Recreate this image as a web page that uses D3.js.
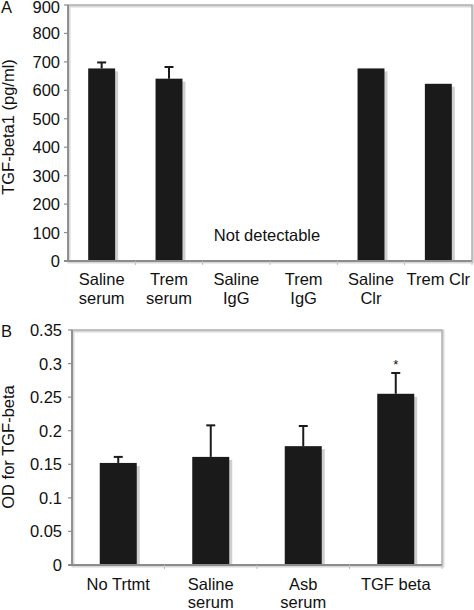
<!DOCTYPE html>
<html><head><meta charset="utf-8">
<script src="https://cdn.jsdelivr.net/npm/d3@7"></script>
<style>
body{margin:0;background:#fff;}
svg text{font-family:"Liberation Sans",Arial,sans-serif;fill:#111;}
</style></head>
<body>
<svg id="chart" width="474" height="610"></svg>
<script>
// Panel A data
const catsA = ["Saline\nserum","Trem\nserum","Saline\nIgG","Trem\nIgG","Saline\nClr","Trem Clr"];
const valsA = [677, 641, null, null, 677, 623];
const errA  = [21, 41, null, null, null, null];
const ticksA = [0,100,200,300,400,500,600,700,800,900];
// Panel B data
const catsB = ["No Trtmt","Saline\nserum","Asb\nserum","TGF beta"];
const valsB = [0.152, 0.161, 0.177, 0.255];
const errB  = [0.009, 0.047, 0.030, 0.031];
const ticksB = [0,0.05,0.1,0.15,0.2,0.25,0.3,0.35];

const FS = 16.5;
const svg = d3.select("#chart");

function panel(cfg){
  const g = svg.append("g");
  const x = d3.scaleBand().domain(cfg.cats.map((d,i)=>i)).range([cfg.x0,cfg.x1]).paddingInner(0.6).paddingOuter(0.3);
  const y = d3.scaleLinear().domain([0,cfg.max]).range([cfg.y0,cfg.y1]);
  // frame (top/right) with light shadow
  g.append("rect").attr("x",cfg.x0).attr("y",y(cfg.max)).attr("width",cfg.x1-cfg.x0).attr("height",cfg.y0-y(cfg.max))
    .attr("fill","none").attr("stroke","#d8d8d8").attr("stroke-width",3).attr("transform","translate(1,1)");
  g.append("rect").attr("x",cfg.x0).attr("y",y(cfg.max)).attr("width",cfg.x1-cfg.x0).attr("height",cfg.y0-y(cfg.max))
    .attr("fill","none").attr("stroke","#a8a8a8").attr("stroke-width",1.2);
  // bar shadows
  cfg.vals.forEach((v,i)=>{
    if(v==null) return;
    g.append("rect").attr("x",x(i)+3).attr("y",y(v)+3).attr("width",x.bandwidth()).attr("height",cfg.y0-y(v)-3)
      .attr("fill","#cfcfcf");
  });
  cfg.vals.forEach((v,i)=>{
    if(v==null) return;
    g.append("rect").attr("x",x(i)).attr("y",y(v)).attr("width",x.bandwidth()).attr("height",cfg.y0-y(v))
      .attr("fill","#1a1a1a");
  });
  // error bars (upper only)
  cfg.errs.forEach((e,i)=>{
    if(e==null) return;
    const cx = x(i)+x.bandwidth()/2;
    g.append("line").attr("x1",cx).attr("x2",cx).attr("y1",y(cfg.vals[i])).attr("y2",y(cfg.vals[i]+e))
      .attr("stroke","#1a1a1a").attr("stroke-width",2);
    g.append("line").attr("x1",cx-4.5).attr("x2",cx+4.5).attr("y1",y(cfg.vals[i]+e)).attr("y2",y(cfg.vals[i]+e))
      .attr("stroke","#1a1a1a").attr("stroke-width",2);
  });
  // axes
  g.append("line").attr("x1",cfg.x0).attr("x2",cfg.x0).attr("y1",y(0)).attr("y2",y(cfg.max)).attr("stroke","#8c8c8c").attr("stroke-width",1.8);
  g.append("line").attr("x1",cfg.x0-4).attr("x2",cfg.x1).attr("y1",y(0)).attr("y2",y(0)).attr("stroke","#8c8c8c").attr("stroke-width",1.8);
  // y ticks
  cfg.ticks.forEach(t=>{
    g.append("line").attr("x1",cfg.x0-4).attr("x2",cfg.x0).attr("y1",y(t)).attr("y2",y(t)).attr("stroke","#8c8c8c").attr("stroke-width",1.2);
    g.append("text").attr("x",cfg.tickX).attr("y",Math.max(y(t)+6,12.5)).attr("text-anchor","end").attr("font-size",FS).text(cfg.fmt(t));
  });
  // x ticks at boundaries
  const step = x.step();
  for(let k=1;k<=cfg.cats.length;k++){
    const xx = cfg.x0 + k*step;
    g.append("line").attr("x1",xx).attr("x2",xx).attr("y1",y(0)).attr("y2",y(0)+4).attr("stroke","#bdbdbd").attr("stroke-width",1);
  }
  // category labels
  cfg.cats.forEach((c,i)=>{
    const cx = x(i)+x.bandwidth()/2;
    c.split("\n").forEach((ln,j)=>{
      g.append("text").attr("x",cx).attr("y",cfg.labY+j*cfg.lh).attr("text-anchor","middle").attr("font-size",FS).text(ln);
    });
  });
  // y title
  g.append("text").attr("transform",`translate(${cfg.titleX},${cfg.titleY}) rotate(-90)`).attr("text-anchor","middle")
    .attr("font-size",FS).text(cfg.title);
  // panel letter
  g.append("text").attr("x",1).attr("y",cfg.letterY).attr("font-size",FS).text(cfg.letter);
  return {g,x,y};
}

const A = panel({cats:catsA, vals:valsA, errs:errA, ticks:ticksA, max:900,
  x0:68, x1:472, y0:261, y1:5, tickX:60, labY:285, lh:19, titleX:14, titleY:127, title:"TGF-beta1 (pg/ml)",
  letter:"A", letterY:12.5, fmt:d=>d});
A.g.append("text").attr("y",241)
  .attr("text-anchor","middle").attr("font-size",FS).text("Not detectable")
  .attr("x", (A.x(2)+A.x(3)+A.x.bandwidth())/2 - 3);

const B = panel({cats:catsB, vals:valsB, errs:errB, ticks:ticksB, max:0.35,
  x0:72, x1:442, y0:565, y1:330, tickX:62, labY:590, lh:18, titleX:14, titleY:447, title:"OD for TGF-beta",
  letter:"B", letterY:337, fmt:d=>d===0?"0":String(+d.toFixed(2))});
B.g.append("text").attr("x",B.x(3)+B.x.bandwidth()/2).attr("y",369).attr("text-anchor","middle").attr("font-size",13).text("*");
</script>
</body></html>
